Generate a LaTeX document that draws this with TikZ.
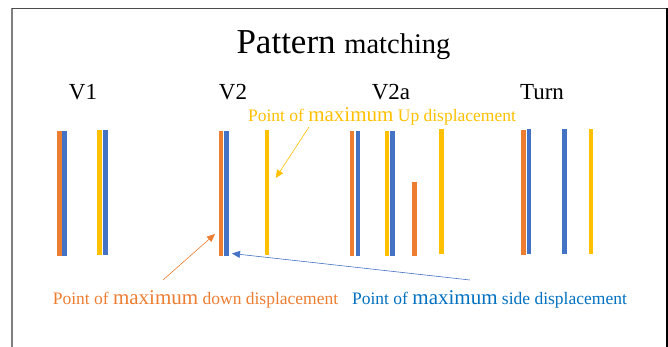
\documentclass[tikz,border=0pt]{standalone}
\usepackage{fontspec}
\setmainfont{Liberation Serif}
\usepackage{tikz}
\usepackage{xcolor}
\usetikzlibrary{arrows.meta}
\definecolor{barorange}{HTML}{ED7D31}
\definecolor{barblue}{HTML}{4472C4}
\definecolor{baryellow}{HTML}{FFC000}
\definecolor{textblue}{HTML}{0070C0}
\newcommand{\fsz}[1]{\fontsize{#1}{#1}\selectfont}

\begin{document}
\begin{tikzpicture}[x=1pt, y=-1pt, >={Triangle[length=8pt,width=7pt]},
  pointer/.style={->, line width=0.6pt},
  lbl/.style={inner sep=0pt, anchor=base}]

  \useasboundingbox (0,0) rectangle (668,347);

  % Slide frame (bottom edge is cut off)
  \draw[line width=1.5pt, gray] (12,347) -- (12,8.5);
  \draw[line width=1.5pt, black!70] (12,8.5) -- (667,8.5);
  \draw[line width=1.5pt, black] (667,8.5) -- (667,347);

  % Title and pattern names
  \node[lbl] (title) at (343.5,54) {{\fsz{35}Pattern }{\fsz{28.5}matching}};
  \node[lbl] (v1) at (83,100) {\fsz{23}V1};
  \node[lbl] (v2) at (233,100) {\fsz{23}V2};
  \node[lbl] (v2a) at (391,100) {\fsz{23}V2a};
  \node[lbl] (turn) at (542,100) {\fsz{23}Turn};

  % Bars: left/right/top/bottom/colour
  \foreach \xa/\xb/\ya/\yb/\c in {
      57/62/131/256/barorange, 62/67/131/256/barblue,
      97/102/130/254.7/baryellow, 103/108/130/254.7/barblue,
      218.7/223/131/255.7/barorange, 224.3/229/131/255.7/barblue,
      265/269.3/130/255/baryellow,
      350/354.3/131/255.7/barorange, 356/360.3/131/255.7/barblue,
      385/389.3/131/255.7/baryellow, 390/394.7/131/255.7/barblue,
      412/417/181.7/255.7/barorange, 439/444/129/254/baryellow,
      521.3/525.7/130/254.7/barorange, 526.7/531/129.3/254/barblue,
      562/566.7/129/254/barblue, 589/593.3/129/253.7/baryellow} {
    \fill[\c] (\xa,\ya) rectangle (\xb,\yb);
  }

  % Annotations
  \node[lbl, text=baryellow] (uplbl) at (382,122)
    {\fsz{17.5}Point of {\fsz{21}maximum} Up displacement};
  \node[lbl, text=barorange] (downlbl) at (195.5,304)
    {\fsz{17.5}Point of {\fsz{21}maximum} down displacement};
  \node[lbl, text=textblue] (sidelbl) at (489.5,304)
    {\fsz{17.5}Point of {\fsz{21}maximum} side displacement};

  \coordinate (uptail) at (309,127);
  \coordinate (uptip) at (275.7,178);
  \coordinate (downtail) at (163,280);
  \coordinate (downtip) at (215,234);
  \coordinate (sidetail) at (470,280);
  \coordinate (sidetip) at (232,253.5);

  \draw[pointer, baryellow] (uptail) -- (uptip);
  \draw[pointer, barorange] (downtail) -- (downtip);
  \draw[pointer, barblue] (sidetail) -- (sidetip);
\end{tikzpicture}
\end{document}
